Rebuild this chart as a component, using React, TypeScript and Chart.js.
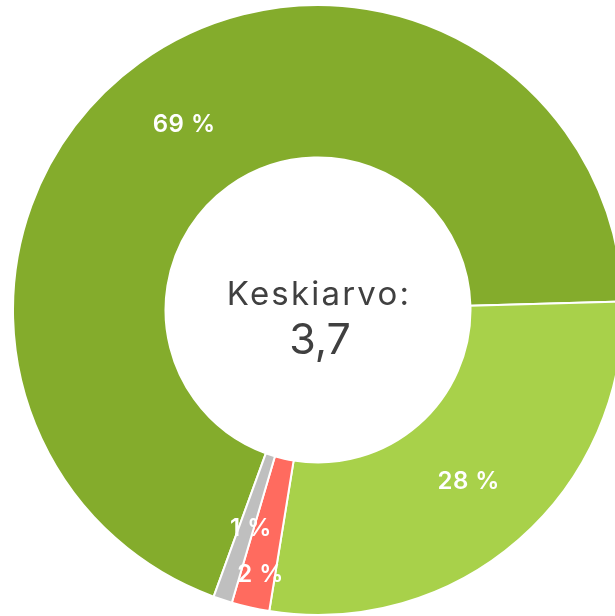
import React, { useEffect, useRef } from "react";
import { Chart, registerables } from "chart.js";

Chart.register(...registerables);

const categories = ["4", "3", "2", "1"];
const values = [69, 28, 2, 1];
const valueLabels = ["69 %", "28 %", "2 %", "1 %"];
const colors = ["#84AC2C", "#A8D14A", "#FF6B5F", "#BFBFBF"];
const centerTitle = "Keskiarvo:";
const centerValue = "3,7";

const labelPlugin = {
  id: "arcLabels",
  afterDatasetsDraw(chart: any, _args: any, opts: any) {
    const { ctx } = chart;
    const meta = chart.getDatasetMeta(0);
    ctx.save();
    ctx.fillStyle = "#ffffff";
    ctx.textAlign = "center";
    ctx.textBaseline = "middle";
    ctx.font = "600 24px Inter";
    (ctx as any).letterSpacing = "0.5px";
    meta.data.forEach((arc: any, i: number) => {
      const p = arc.getProps(["x", "y", "startAngle", "endAngle", "innerRadius", "outerRadius"], true);
      const mid = (p.startAngle + p.endAngle) / 2 + (opts.angleShift?.[i] ?? 0);
      const r = (p.innerRadius + p.outerRadius) / 2 + (opts.offsets?.[i] ?? 0);
      ctx.fillText(valueLabels[i], p.x + Math.cos(mid) * r, p.y + Math.sin(mid) * r);
    });
    const a = meta.data[0];
    ctx.fillStyle = "#404040";
    ctx.font = "400 33px Inter";
    (ctx as any).letterSpacing = "2.2px";
    ctx.fillText(centerTitle, a.x + 1, a.y - 15);
    ctx.font = "400 43px Inter";
    (ctx as any).letterSpacing = "0px";
    ctx.fillText(centerValue, a.x + 2, a.y + 31);
    ctx.restore();
  },
};

export default function App() {
  const ref = useRef<HTMLCanvasElement>(null);
  useEffect(() => {
    if (!ref.current) return;
    const chart = new Chart(ref.current, {
      type: "doughnut",
      data: {
        labels: categories,
        datasets: [
          {
            data: values,
            backgroundColor: colors,
            borderColor: "#ffffff",
            borderWidth: 2,
          },
        ],
      },
      options: {
        animation: false,
        responsive: false,
        cutout: "50%",
        rotation: -160,
        layout: { padding: 0 },
        plugins: {
          legend: { display: false },
          tooltip: { enabled: false },
          arcLabels: { offsets: [0, 0, 42, 0], angleShift: [0, 0, -0.01, -0.02] },
        } as any,
      },
      plugins: [labelPlugin],
    });
    return () => chart.destroy();
  }, []);
  return (
    <div style={{ position: "fixed", left: 0, top: 0, width: 615, height: 616, overflow: "hidden", background: "#fff" }}>
      <canvas
        ref={ref}
        width={612}
        height={612}
        style={{ position: "absolute", left: 12, top: 4, width: 612, height: 612 }}
      />
    </div>
  );
}
